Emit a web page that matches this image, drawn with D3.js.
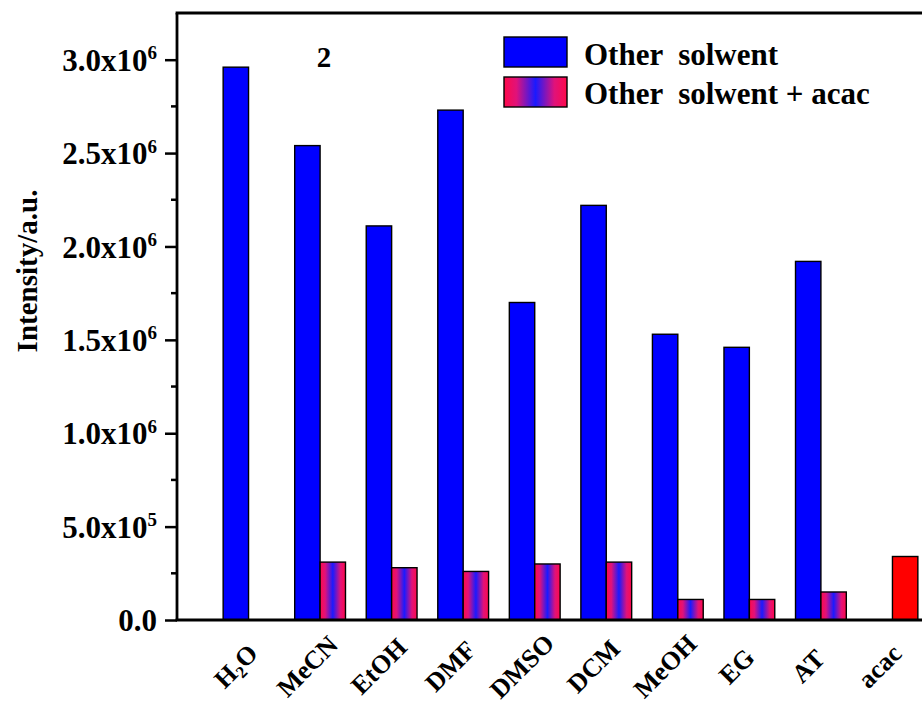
<!DOCTYPE html>
<html><head><meta charset="utf-8">
<script src="https://cdn.jsdelivr.net/npm/d3@7"></script>
<style>body{margin:0;background:#fff}</style>
</head><body><svg id="c" width="922" height="706"></svg>
<script>
const categories = ["H2O","MeCN","EtOH","DMF","DMSO","DCM","MeOH","EG","AT","acac"];
const otherSolvent = [2.96e6, 2.54e6, 2.11e6, 2.73e6, 1.70e6, 2.22e6, 1.53e6, 1.46e6, 1.92e6, null];
const otherSolventAcac = [null, 0.31e6, 0.28e6, 0.26e6, 0.30e6, 0.31e6, 0.11e6, 0.11e6, 0.15e6, 0.34e6];
const yTicks = [0, 0.5e6, 1.0e6, 1.5e6, 2.0e6, 2.5e6, 3.0e6];
const seriesNames = ["Other  solwent", "Other  solwent + acac"];
const panelLabel = "2";
const yTitle = "Intensity/a.u.";

const font = "'Liberation Serif','Times New Roman',serif";
const svg = d3.select("#c");
const L = 177, R = 964, T = 13, B = 620;

const defs = svg.append("defs");
const grad = defs.append("linearGradient").attr("id","g").attr("x1","0").attr("x2","1").attr("y1","0").attr("y2","0");
[[0,"#ff0a4a"],[0.2,"#e0127a"],[0.5,"#1a1aff"],[0.8,"#e0127a"],[1,"#ff0a4a"]].forEach(([o,c])=>grad.append("stop").attr("offset",o).attr("stop-color",c));

const x = d3.scaleBand().domain(categories).range([L, R]).paddingOuter(0.5).paddingInner(0);
const y = d3.scaleLinear().domain([0, 3.25e6]).range([B, T]);
const bw = x.bandwidth() * 0.355;
const cx = c => x(c) + x.bandwidth()/2;

// bars
const g = svg.append("g");
categories.forEach((c,i)=>{
  if (otherSolvent[i] != null) {
    g.append("rect").attr("x", cx(c)-bw).attr("y", y(otherSolvent[i])).attr("width", bw)
      .attr("height", y(0)-y(otherSolvent[i])).attr("fill","#0000ff").attr("stroke","#000").attr("stroke-width",1.4);
  }
  if (otherSolventAcac[i] != null) {
    g.append("rect").attr("x", cx(c)).attr("y", y(otherSolventAcac[i])).attr("width", bw)
      .attr("height", y(0)-y(otherSolventAcac[i])).attr("fill", c==="acac" ? "#ff0000" : "url(#g)")
      .attr("stroke","#000").attr("stroke-width",1.4);
  }
});

// y axis
const fmt = v => {
  if (v === 0) return {m:"0.0", e:null};
  const e = Math.floor(Math.log10(v) + 1e-9);
  return {m:(v/Math.pow(10,e)).toFixed(1)+"x10", e:String(e)};
};
const yAxis = svg.append("g").attr("transform",`translate(${L},0)`)
  .call(d3.axisLeft(y).tickValues(yTicks).tickSize(12).tickPadding(8).tickFormat(""));
yAxis.select(".domain").remove();
yAxis.selectAll(".tick line").attr("stroke","#000").attr("stroke-width",2.5);
yAxis.selectAll(".tick text").each(function(d){
  const t = d3.select(this).attr("font-family",font).attr("font-weight","bold").attr("font-size",31)
    .attr("fill","#000").attr("dy","0.34em").attr("x",-20).attr("text-anchor","end");
  const f = fmt(d);
  t.append("tspan").text(f.m);
  if (f.e) t.append("tspan").attr("font-size",19).attr("dy","-0.6em").text(f.e);
});
const minor = d3.range(0.25e6, 3.25e6, 0.5e6);
svg.append("g").selectAll("line").data(minor).join("line")
  .attr("x1",L-6).attr("x2",L).attr("y1",d=>y(d)).attr("y2",d=>y(d)).attr("stroke","#000").attr("stroke-width",2.5);

// frame lines
svg.append("line").attr("x1",L).attr("x2",L).attr("y1",T).attr("y2",B).attr("stroke","#000").attr("stroke-width",2.8);
svg.append("line").attr("x1",L-1.4).attr("x2",922).attr("y1",T).attr("y2",T).attr("stroke","#000").attr("stroke-width",2.8);
svg.append("line").attr("x1",L-1.4).attr("x2",922).attr("y1",B).attr("y2",B).attr("stroke","#000").attr("stroke-width",2.8);

// x labels
const xl = svg.append("g");
categories.forEach(c=>{
  const t = xl.append("text").attr("transform",`translate(${cx(c)-13},${B+46}) rotate(-45)`)
    .attr("text-anchor","middle").attr("dy","0.35em").attr("font-family",font).attr("font-weight","bold").attr("font-size",26);
  if (c === "H2O") {
    t.append("tspan").text("H");
    t.append("tspan").attr("font-size",17).attr("dy","0.3em").text("2");
    t.append("tspan").attr("dy","-0.2em").text("O");
  } else t.text(c);
});

// y title
svg.append("text").attr("transform","translate(37,271) rotate(-90)").attr("text-anchor","middle")
  .attr("font-family",font).attr("font-weight","bold").attr("font-size",29).text(yTitle);

// panel label
svg.append("text").attr("x",324).attr("y",67).attr("text-anchor","middle")
  .attr("font-family",font).attr("font-weight","bold").attr("font-size",29).text(panelLabel);

// legend
const lg = svg.append("g");
seriesNames.forEach((s,i)=>{
  lg.append("rect").attr("x",504).attr("y",37+i*40).attr("width",63).attr("height",30)
    .attr("fill", i===0 ? "#0000ff" : "url(#g)").attr("stroke","#000").attr("stroke-width",1.4);
  lg.append("text").attr("x",584).attr("y",65+i*39).attr("font-family",font).attr("font-weight","bold")
    .attr("font-size",31).style("white-space","pre").attr("xml:space","preserve").text(s);
});
</script></body></html>
